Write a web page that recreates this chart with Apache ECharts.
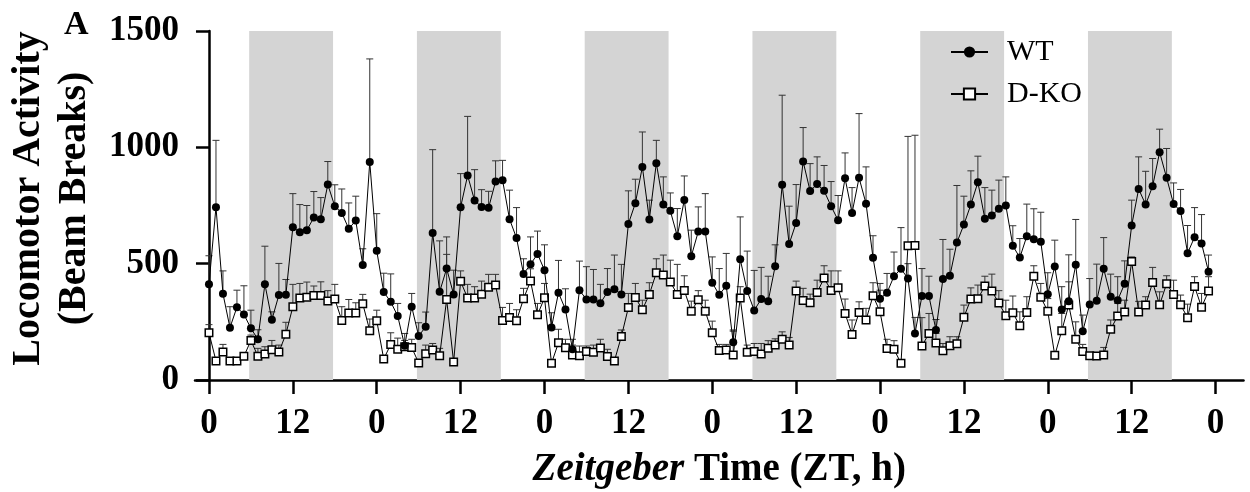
<!DOCTYPE html>
<html>
<head>
<meta charset="utf-8">
<script src="https://cdn.jsdelivr.net/npm/echarts@6/dist/echarts.min.js"></script>
<style>
html,body{margin:0;padding:0;background:#fff;}
#chart{width:1250px;height:492px;}
</style>
</head>
<body>
<div id="chart"></div>
<script>
// Zeitgeber time of each sample (h)
const hours = Array.from({length: 144}, (_, i) => i);
const xTickValues = [0, 12, 24, 36, 48, 60, 72, 84, 96, 108, 120, 132, 144];
const xTickLabels = ['0', '12', '0', '12', '0', '12', '0', '12', '0', '12', '0', '12', '0'];
const yTickValues = [0, 500, 1000, 1500];
// dark phases (shaded)
const darkStart = [5.75, 29.75, 53.75, 77.75, 101.75, 125.75];
const darkEnd   = [17.75, 41.75, 65.75, 89.75, 113.75, 137.75];

const wtMean = [
411,743,371,225,313,282,222,175,412,259,365,366,657,635,644,698,691,840,747,718,650,685,494,937,
555,378,336,275,147,315,189,229,632,379,479,368,743,879,771,744,740,853,859,691,610,456,497,542,
472,226,375,303,132,386,346,346,330,378,390,368,671,760,916,690,932,754,727,618,774,532,638,638,
418,366,405,162,519,382,299,348,339,489,839,585,675,939,812,842,813,747,687,867,718,869,758,525,
349,375,446,478,436,200,361,361,215,434,448,591,668,754,850,693,707,736,750,577,526,618,605,594,
369,488,303,338,495,209,325,341,478,358,343,414,664,821,754,833,979,869,756,726,545,614,587,465
];
const wtUpper = [
534,1030,469,315,386,405,300,216,575,293,501,432,801,754,750,810,784,939,839,821,761,790,564,1380,
715,459,456,329,200,372,246,292,990,598,615,472,887,1133,904,818,811,942,944,816,741,521,615,640,
581,289,514,392,175,511,487,475,411,479,537,497,813,863,1066,773,1030,873,804,737,877,644,744,801,
529,479,544,215,701,554,471,484,446,581,1224,747,840,1085,930,959,922,853,793,976,827,1145,916,620,
415,458,550,655,500,269,479,446,260,604,562,836,790,899,962,827,816,859,873,663,608,756,736,721,
461,601,401,538,690,279,436,498,612,455,444,512,773,959,897,952,1078,995,847,819,664,741,711,537
];
const koMean = [
203,82,120,82,82,102,170,102,112,130,120,197,315,352,356,363,363,340,348,256,288,288,328,212,
255,90,153,132,143,140,73,113,129,104,346,77,424,352,352,369,399,408,256,269,255,349,425,280,
353,72,160,139,107,104,122,119,138,101,82,187,312,355,302,368,461,451,421,368,385,295,345,295,
203,127,129,107,352,119,122,112,136,150,175,150,382,342,332,376,438,385,396,286,196,290,258,362,
293,135,132,72,577,578,146,200,159,126,147,156,270,348,349,404,382,331,276,289,233,290,446,356,
295,106,212,322,175,122,104,103,107,218,275,292,509,292,322,419,323,414,368,323,268,402,313,382
];
const koUpper = [
238,95,153,90,90,110,193,136,143,170,150,248,411,415,421,404,422,384,411,315,346,332,368,262,
300,95,203,180,170,175,80,150,157,136,540,85,469,411,401,425,454,454,312,329,302,394,478,329,
415,80,218,175,150,146,146,150,175,132,90,215,372,415,343,418,521,537,515,497,448,339,384,343,
253,153,153,210,401,150,157,157,169,177,207,183,425,394,369,429,491,469,469,348,258,336,308,418,
386,175,169,80,1047,1052,268,286,200,157,186,186,322,396,408,446,455,384,343,361,293,358,491,415,
350,115,286,422,250,153,110,110,140,258,329,343,529,338,358,484,379,448,429,365,326,444,372,444
];

const FONT = 'Liberation Serif';
const chart = echarts.init(document.getElementById('chart'), null, {renderer: 'canvas'});

function errData(mean, upper) {
  return hours.map((h, i) => [h, mean[i], upper[i]]);
}
function errRender(params, api) {
  const x = api.value(0), m = api.value(1), u = api.value(2);
  if (u <= m) return null;
  const p0 = api.coord([x, m]);
  const p1 = api.coord([x, u]);
  const half = 3.5;
  return {
    type: 'group',
    children: [
      {type: 'line', shape: {x1: p0[0], y1: p0[1], x2: p1[0], y2: p1[1]}, style: {stroke: '#333', lineWidth: 1}},
      {type: 'line', shape: {x1: p1[0] - half, y1: p1[1], x2: p1[0] + half, y2: p1[1]}, style: {stroke: '#333', lineWidth: 1}}
    ]
  };
}

const option = {
  animation: false,
  backgroundColor: '#fff',
  title: {
    text: 'A', left: 64, top: 8, padding: 0,
    textStyle: {fontSize: 34, fontWeight: 'bold', fontFamily: FONT, color: '#000'}
  },
  grid: {left: 195, right: 6.5, top: 31, bottom: 112, containLabel: false, outerBoundsMode: 'none'},
  legend: {
    data: ['WT', 'D-KO'],
    orient: 'vertical',
    left: 950, top: 37,
    itemWidth: 37, itemHeight: 14, itemGap: 12,
    padding: 0,
    textStyle: {fontFamily: FONT, fontSize: 30, color: '#000', padding: [0, 0, 0, 14]}
  },
  xAxis: {
    type: 'value', min: -2, max: 148,
    splitLine: {show: false},
    axisLine: {show: true, lineStyle: {color: '#000', width: 2.5}},
    axisTick: {show: true, length: 14, lineStyle: {color: '#000', width: 2.5}, customValues: xTickValues},
    axisLabel: {
      customValues: xTickValues,
      formatter: v => xTickLabels[xTickValues.indexOf(v)],
      fontFamily: FONT, fontWeight: 'bold', fontSize: 35, color: '#000', margin: 26
    },
    name: '{i|Zeitgeber}{b| Time (ZT, h)}',
    nameLocation: 'middle', nameGap: 70,
    nameTextStyle: {
      rich: {
        i: {fontFamily: FONT, fontStyle: 'italic', fontWeight: 'bold', fontSize: 39, color: '#000'},
        b: {fontFamily: FONT, fontWeight: 'bold', fontSize: 39, color: '#000'}
      }
    }
  },
  yAxis: {
    type: 'value', min: 0, max: 1500, interval: 500,
    splitLine: {show: false},
    axisLine: {show: true, lineStyle: {color: '#000', width: 2.5}},
    axisTick: {show: true, length: 13, lineStyle: {color: '#000', width: 2.5}},
    axisLabel: {fontFamily: FONT, fontWeight: 'bold', fontSize: 35, color: '#000', margin: 16,
      formatter: v => String(v)},
    name: 'Locomotor Activity\n(Beam Breaks)',
    nameLocation: 'middle', nameGap: 94, nameRotate: 90,
    nameTextStyle: {fontFamily: FONT, fontWeight: 'bold', fontSize: 40, color: '#000', lineHeight: 46,
      align: 'center', padding: [0, 0, 0, 14]}
  },
  series: [
    {
      name: 'shade', type: 'line', data: [], z: 0, silent: true,
      markArea: {
        silent: true,
        itemStyle: {color: '#d4d4d4'},
        data: darkStart.map((s, i) => [{xAxis: s}, {xAxis: darkEnd[i]}])
      }
    },
    {
      name: 'WT err', type: 'custom', z: 2, silent: true,
      renderItem: errRender, data: errData(wtMean, wtUpper),
      encode: {x: 0, y: [1, 2]}
    },
    {
      name: 'D-KO err', type: 'custom', z: 2, silent: true,
      renderItem: errRender, data: errData(koMean, koUpper),
      encode: {x: 0, y: [1, 2]}
    },
    {
      name: 'WT', type: 'line', z: 4,
      data: hours.map((h, i) => [h, wtMean[i]]),
      symbol: 'circle', symbolSize: 8,
      itemStyle: {color: '#000'},
      lineStyle: {color: '#000', width: 1}
    },
    {
      name: 'D-KO', type: 'line', z: 3,
      data: hours.map((h, i) => [h, koMean[i]]),
      symbol: 'rect', symbolSize: 7.5,
      itemStyle: {color: '#fff', borderColor: '#000', borderWidth: 1.5},
      lineStyle: {color: '#000', width: 1}
    }
  ]
};
chart.setOption(option);
</script>
</body>
</html>
